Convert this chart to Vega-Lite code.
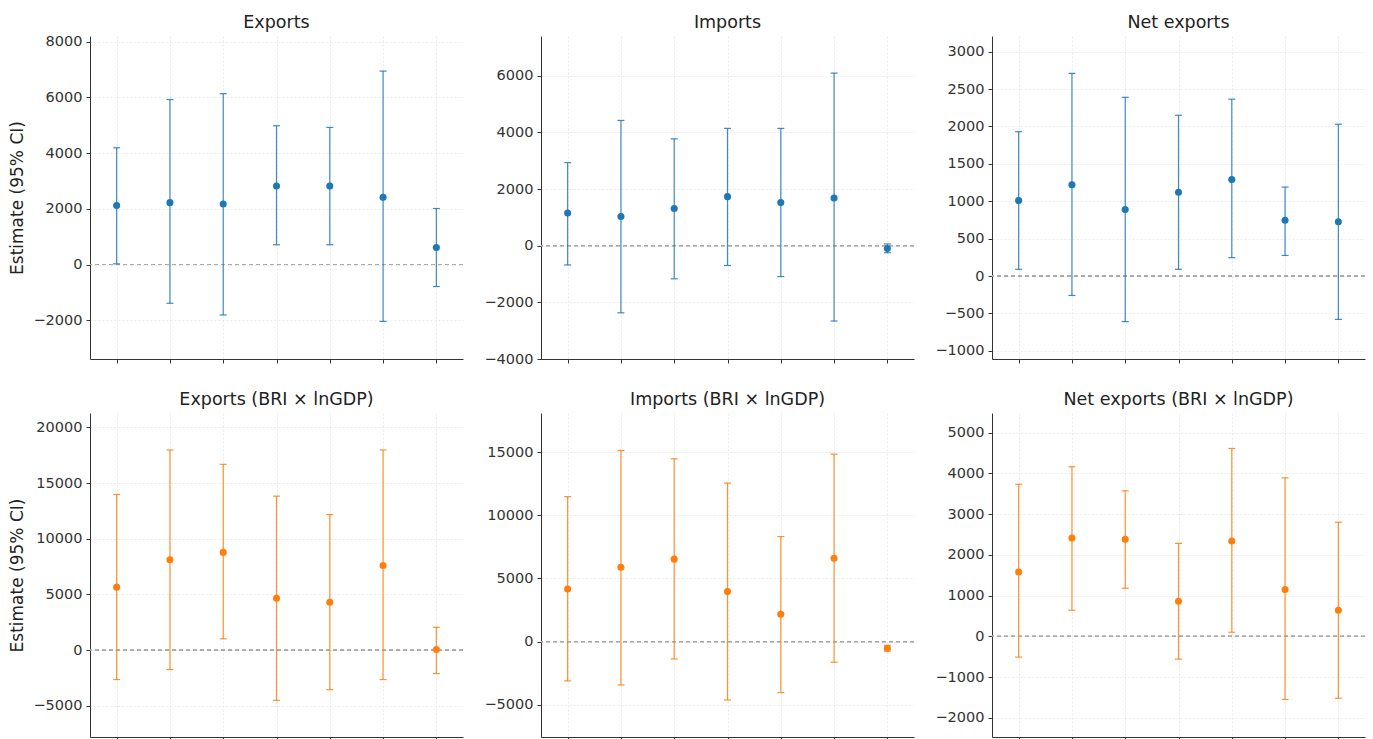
{
  "$schema": "https://vega.github.io/schema/vega-lite/v6.json",
  "padding": {"left": 8, "top": 13, "right": 5, "bottom": 0},
  "background": "white",
  "data": {"values": [
    {"panel": "Exports", "idx": 0, "est": 2120, "lo": 25, "hi": 4190},
    {"panel": "Exports", "idx": 1, "est": 2220, "lo": -1390, "hi": 5920},
    {"panel": "Exports", "idx": 2, "est": 2170, "lo": -1810, "hi": 6130},
    {"panel": "Exports", "idx": 3, "est": 2820, "lo": 710, "hi": 4980},
    {"panel": "Exports", "idx": 4, "est": 2820, "lo": 710, "hi": 4920},
    {"panel": "Exports", "idx": 5, "est": 2410, "lo": -2040, "hi": 6940},
    {"panel": "Exports", "idx": 6, "est": 610, "lo": -790, "hi": 2010},
    {"panel": "Imports", "idx": 0, "est": 1150, "lo": -680, "hi": 2930},
    {"panel": "Imports", "idx": 1, "est": 1030, "lo": -2370, "hi": 4420},
    {"panel": "Imports", "idx": 2, "est": 1310, "lo": -1170, "hi": 3770},
    {"panel": "Imports", "idx": 3, "est": 1730, "lo": -700, "hi": 4140},
    {"panel": "Imports", "idx": 4, "est": 1520, "lo": -1090, "hi": 4140},
    {"panel": "Imports", "idx": 5, "est": 1680, "lo": -2660, "hi": 6090},
    {"panel": "Imports", "idx": 6, "est": -100, "lo": -250, "hi": 60},
    {"panel": "Net exports", "idx": 0, "est": 1010, "lo": 90, "hi": 1930},
    {"panel": "Net exports", "idx": 1, "est": 1220, "lo": -260, "hi": 2710},
    {"panel": "Net exports", "idx": 2, "est": 890, "lo": -610, "hi": 2390},
    {"panel": "Net exports", "idx": 3, "est": 1120, "lo": 90, "hi": 2150},
    {"panel": "Net exports", "idx": 4, "est": 1290, "lo": 245, "hi": 2365},
    {"panel": "Net exports", "idx": 5, "est": 745, "lo": 275, "hi": 1190},
    {"panel": "Net exports", "idx": 6, "est": 725, "lo": -580, "hi": 2030},
    {"panel": "Exports BRI", "idx": 0, "est": 5660, "lo": -2640, "hi": 13980},
    {"panel": "Exports BRI", "idx": 1, "est": 8120, "lo": -1740, "hi": 17980},
    {"panel": "Exports BRI", "idx": 2, "est": 8780, "lo": 1020, "hi": 16690},
    {"panel": "Exports BRI", "idx": 3, "est": 4660, "lo": -4510, "hi": 13830},
    {"panel": "Exports BRI", "idx": 4, "est": 4300, "lo": -3550, "hi": 12180},
    {"panel": "Exports BRI", "idx": 5, "est": 7600, "lo": -2640, "hi": 17980},
    {"panel": "Exports BRI", "idx": 6, "est": 60, "lo": -2100, "hi": 2050},
    {"panel": "Imports BRI", "idx": 0, "est": 4170, "lo": -3110, "hi": 11480},
    {"panel": "Imports BRI", "idx": 1, "est": 5890, "lo": -3430, "hi": 15130},
    {"panel": "Imports BRI", "idx": 2, "est": 6530, "lo": -1370, "hi": 14470},
    {"panel": "Imports BRI", "idx": 3, "est": 3960, "lo": -4620, "hi": 12550},
    {"panel": "Imports BRI", "idx": 4, "est": 2170, "lo": -4040, "hi": 8320},
    {"panel": "Imports BRI", "idx": 5, "est": 6600, "lo": -1630, "hi": 14840},
    {"panel": "Imports BRI", "idx": 6, "est": -520, "lo": -750, "hi": -300},
    {"panel": "Net exports BRI", "idx": 0, "est": 1580, "lo": -510, "hi": 3730},
    {"panel": "Net exports BRI", "idx": 1, "est": 2410, "lo": 640, "hi": 4160},
    {"panel": "Net exports BRI", "idx": 2, "est": 2380, "lo": 1180, "hi": 3570},
    {"panel": "Net exports BRI", "idx": 3, "est": 860, "lo": -560, "hi": 2280},
    {"panel": "Net exports BRI", "idx": 4, "est": 2340, "lo": 100, "hi": 4610},
    {"panel": "Net exports BRI", "idx": 5, "est": 1150, "lo": -1550, "hi": 3890},
    {"panel": "Net exports BRI", "idx": 6, "est": 640, "lo": -1520, "hi": 2800}
  ]},
  "spacing": 24,
  "vconcat": [
    {
      "spacing": 78,
      "bounds": "flush",
      "hconcat": [
        {
          "width": 373, "height": 323,
          "title": {"text": "Exports", "dy": 3},
          "transform": [{"filter": "datum.panel === 'Exports'"}],
          "layer": [
            {"mark": {"type": "rule", "color": "#aaaaaa", "strokeDash": [4, 3], "strokeWidth": 1},
             "encoding": {"y": {"datum": 0, "type": "quantitative", "scale": {"domain": [-3390, 8200], "nice": false, "zero": false}, "axis": {"values": [-2000, 0, 2000, 4000, 6000, 8000]}, "title": "Estimate (95% CI)"}}},
            {"mark": {"type": "rule", "color": "#1f77b4", "strokeWidth": 1.2, "opacity": 0.85},
             "encoding": {
               "x": {"field": "idx", "type": "quantitative", "scale": {"domain": [-0.5, 6.5], "nice": false, "zero": false}, "axis": {"values": [0, 1, 2, 3, 4, 5, 6], "labels": false, "title": null}},
               "y": {"field": "lo", "type": "quantitative", "title": "Estimate (95% CI)"},
               "y2": {"field": "hi"}}},
            {"mark": {"type": "tick", "orient": "horizontal", "color": "#1f77b4", "size": 7, "thickness": 1.2, "opacity": 0.85},
             "encoding": {"x": {"field": "idx", "type": "quantitative"}, "y": {"field": "lo", "type": "quantitative", "title": "Estimate (95% CI)"}}},
            {"mark": {"type": "tick", "orient": "horizontal", "color": "#1f77b4", "size": 7, "thickness": 1.2, "opacity": 0.85},
             "encoding": {"x": {"field": "idx", "type": "quantitative"}, "y": {"field": "hi", "type": "quantitative", "title": "Estimate (95% CI)"}}},
            {"mark": {"type": "circle", "color": "#1f77b4", "size": 50, "opacity": 1},
             "encoding": {"x": {"field": "idx", "type": "quantitative"}, "y": {"field": "est", "type": "quantitative", "title": "Estimate (95% CI)"}}}
          ]
        },
        {
          "width": 373, "height": 323,
          "title": "Imports",
          "transform": [{"filter": "datum.panel === 'Imports'"}],
          "layer": [
            {"mark": {"type": "rule", "color": "#aaaaaa", "strokeDash": [4, 3], "strokeWidth": 1},
             "encoding": {"y": {"datum": 0, "type": "quantitative", "scale": {"domain": [-4000, 7400], "nice": false, "zero": false}, "axis": {"values": [-4000, -2000, 0, 2000, 4000, 6000]}, "title": null}}},
            {"mark": {"type": "rule", "color": "#1f77b4", "strokeWidth": 1.2, "opacity": 0.85},
             "encoding": {
               "x": {"field": "idx", "type": "quantitative", "scale": {"domain": [-0.5, 6.5], "nice": false, "zero": false}, "axis": {"values": [0, 1, 2, 3, 4, 5, 6], "labels": false, "title": null}},
               "y": {"field": "lo", "type": "quantitative", "title": null},
               "y2": {"field": "hi"}}},
            {"mark": {"type": "tick", "orient": "horizontal", "color": "#1f77b4", "size": 7, "thickness": 1.2, "opacity": 0.85},
             "encoding": {"x": {"field": "idx", "type": "quantitative"}, "y": {"field": "lo", "type": "quantitative", "title": null}}},
            {"mark": {"type": "tick", "orient": "horizontal", "color": "#1f77b4", "size": 7, "thickness": 1.2, "opacity": 0.85},
             "encoding": {"x": {"field": "idx", "type": "quantitative"}, "y": {"field": "hi", "type": "quantitative", "title": null}}},
            {"mark": {"type": "circle", "color": "#1f77b4", "size": 50, "opacity": 1},
             "encoding": {"x": {"field": "idx", "type": "quantitative"}, "y": {"field": "est", "type": "quantitative", "title": null}}}
          ]
        },
        {
          "width": 373, "height": 323,
          "title": "Net exports",
          "transform": [{"filter": "datum.panel === 'Net exports'"}],
          "layer": [
            {"mark": {"type": "rule", "color": "#aaaaaa", "strokeDash": [4, 3], "strokeWidth": 1},
             "encoding": {"y": {"datum": 0, "type": "quantitative", "scale": {"domain": [-1110, 3210], "nice": false, "zero": false}, "axis": {"values": [-1000, -500, 0, 500, 1000, 1500, 2000, 2500, 3000]}, "title": null}}},
            {"mark": {"type": "rule", "color": "#1f77b4", "strokeWidth": 1.2, "opacity": 0.85},
             "encoding": {
               "x": {"field": "idx", "type": "quantitative", "scale": {"domain": [-0.5, 6.5], "nice": false, "zero": false}, "axis": {"values": [0, 1, 2, 3, 4, 5, 6], "labels": false, "title": null}},
               "y": {"field": "lo", "type": "quantitative", "title": null},
               "y2": {"field": "hi"}}},
            {"mark": {"type": "tick", "orient": "horizontal", "color": "#1f77b4", "size": 7, "thickness": 1.2, "opacity": 0.85},
             "encoding": {"x": {"field": "idx", "type": "quantitative"}, "y": {"field": "lo", "type": "quantitative", "title": null}}},
            {"mark": {"type": "tick", "orient": "horizontal", "color": "#1f77b4", "size": 7, "thickness": 1.2, "opacity": 0.85},
             "encoding": {"x": {"field": "idx", "type": "quantitative"}, "y": {"field": "hi", "type": "quantitative", "title": null}}},
            {"mark": {"type": "circle", "color": "#1f77b4", "size": 50, "opacity": 1},
             "encoding": {"x": {"field": "idx", "type": "quantitative"}, "y": {"field": "est", "type": "quantitative", "title": null}}}
          ]
        }
      ]
    },
    {
      "spacing": 78,
      "bounds": "flush",
      "hconcat": [
        {
          "width": 373, "height": 324,
          "title": "Exports (BRI × lnGDP)",
          "transform": [{"filter": "datum.panel === 'Exports BRI'"}],
          "layer": [
            {"mark": {"type": "rule", "color": "#aaaaaa", "strokeDash": [4, 3], "strokeWidth": 1},
             "encoding": {"y": {"datum": 0, "type": "quantitative", "scale": {"domain": [-7800, 21300], "nice": false, "zero": false}, "axis": {"values": [-5000, 0, 5000, 10000, 15000, 20000]}, "title": "Estimate (95% CI)"}}},
            {"mark": {"type": "rule", "color": "#ff7f0e", "strokeWidth": 1.2, "opacity": 0.85},
             "encoding": {
               "x": {"field": "idx", "type": "quantitative", "scale": {"domain": [-0.5, 6.5], "nice": false, "zero": false}, "axis": {"values": [0, 1, 2, 3, 4, 5, 6], "labels": false, "title": null}},
               "y": {"field": "lo", "type": "quantitative", "title": "Estimate (95% CI)"},
               "y2": {"field": "hi"}}},
            {"mark": {"type": "tick", "orient": "horizontal", "color": "#ff7f0e", "size": 7, "thickness": 1.2, "opacity": 0.85},
             "encoding": {"x": {"field": "idx", "type": "quantitative"}, "y": {"field": "lo", "type": "quantitative", "title": "Estimate (95% CI)"}}},
            {"mark": {"type": "tick", "orient": "horizontal", "color": "#ff7f0e", "size": 7, "thickness": 1.2, "opacity": 0.85},
             "encoding": {"x": {"field": "idx", "type": "quantitative"}, "y": {"field": "hi", "type": "quantitative", "title": "Estimate (95% CI)"}}},
            {"mark": {"type": "circle", "color": "#ff7f0e", "size": 50, "opacity": 1},
             "encoding": {"x": {"field": "idx", "type": "quantitative"}, "y": {"field": "est", "type": "quantitative", "title": "Estimate (95% CI)"}}}
          ]
        },
        {
          "width": 373, "height": 324,
          "title": "Imports (BRI × lnGDP)",
          "transform": [{"filter": "datum.panel === 'Imports BRI'"}],
          "layer": [
            {"mark": {"type": "rule", "color": "#aaaaaa", "strokeDash": [4, 3], "strokeWidth": 1},
             "encoding": {"y": {"datum": 0, "type": "quantitative", "scale": {"domain": [-7550, 18100], "nice": false, "zero": false}, "axis": {"values": [-5000, 0, 5000, 10000, 15000]}, "title": null}}},
            {"mark": {"type": "rule", "color": "#ff7f0e", "strokeWidth": 1.2, "opacity": 0.85},
             "encoding": {
               "x": {"field": "idx", "type": "quantitative", "scale": {"domain": [-0.5, 6.5], "nice": false, "zero": false}, "axis": {"values": [0, 1, 2, 3, 4, 5, 6], "labels": false, "title": null}},
               "y": {"field": "lo", "type": "quantitative", "title": null},
               "y2": {"field": "hi"}}},
            {"mark": {"type": "tick", "orient": "horizontal", "color": "#ff7f0e", "size": 7, "thickness": 1.2, "opacity": 0.85},
             "encoding": {"x": {"field": "idx", "type": "quantitative"}, "y": {"field": "lo", "type": "quantitative", "title": null}}},
            {"mark": {"type": "tick", "orient": "horizontal", "color": "#ff7f0e", "size": 7, "thickness": 1.2, "opacity": 0.85},
             "encoding": {"x": {"field": "idx", "type": "quantitative"}, "y": {"field": "hi", "type": "quantitative", "title": null}}},
            {"mark": {"type": "circle", "color": "#ff7f0e", "size": 50, "opacity": 1},
             "encoding": {"x": {"field": "idx", "type": "quantitative"}, "y": {"field": "est", "type": "quantitative", "title": null}}}
          ]
        },
        {
          "width": 373, "height": 324,
          "title": "Net exports (BRI × lnGDP)",
          "transform": [{"filter": "datum.panel === 'Net exports BRI'"}],
          "layer": [
            {"mark": {"type": "rule", "color": "#aaaaaa", "strokeDash": [4, 3], "strokeWidth": 1},
             "encoding": {"y": {"datum": 0, "type": "quantitative", "scale": {"domain": [-2470, 5480], "nice": false, "zero": false}, "axis": {"values": [-2000, -1000, 0, 1000, 2000, 3000, 4000, 5000]}, "title": null}}},
            {"mark": {"type": "rule", "color": "#ff7f0e", "strokeWidth": 1.2, "opacity": 0.85},
             "encoding": {
               "x": {"field": "idx", "type": "quantitative", "scale": {"domain": [-0.5, 6.5], "nice": false, "zero": false}, "axis": {"values": [0, 1, 2, 3, 4, 5, 6], "labels": false, "title": null}},
               "y": {"field": "lo", "type": "quantitative", "title": null},
               "y2": {"field": "hi"}}},
            {"mark": {"type": "tick", "orient": "horizontal", "color": "#ff7f0e", "size": 7, "thickness": 1.2, "opacity": 0.85},
             "encoding": {"x": {"field": "idx", "type": "quantitative"}, "y": {"field": "lo", "type": "quantitative", "title": null}}},
            {"mark": {"type": "tick", "orient": "horizontal", "color": "#ff7f0e", "size": 7, "thickness": 1.2, "opacity": 0.85},
             "encoding": {"x": {"field": "idx", "type": "quantitative"}, "y": {"field": "hi", "type": "quantitative", "title": null}}},
            {"mark": {"type": "circle", "color": "#ff7f0e", "size": 50, "opacity": 1},
             "encoding": {"x": {"field": "idx", "type": "quantitative"}, "y": {"field": "est", "type": "quantitative", "title": null}}}
          ]
        }
      ]
    }
  ],
  "config": {
    "view": {"stroke": null},
    "font": "DejaVu Sans",
    "axis": {
      "labelFont": "DejaVu Sans", "labelFontSize": 14.5, "labelColor": "#333333",
      "tickColor": "#333333", "domainColor": "#333333", "tickSize": 4, "labelPadding": 4,
      "grid": true, "gridColor": "#cccccc", "gridOpacity": 0.4, "gridDash": [2, 2],
      "titleFont": "DejaVu Sans", "titleFontSize": 17, "titleFontWeight": "normal", "titleColor": "#222222", "titlePadding": 6
    },
    "axisY": {"format": "d"},
    "title": {"font": "DejaVu Sans", "fontSize": 17.5, "fontWeight": "normal", "color": "#222222", "offset": 5}
  }
}
